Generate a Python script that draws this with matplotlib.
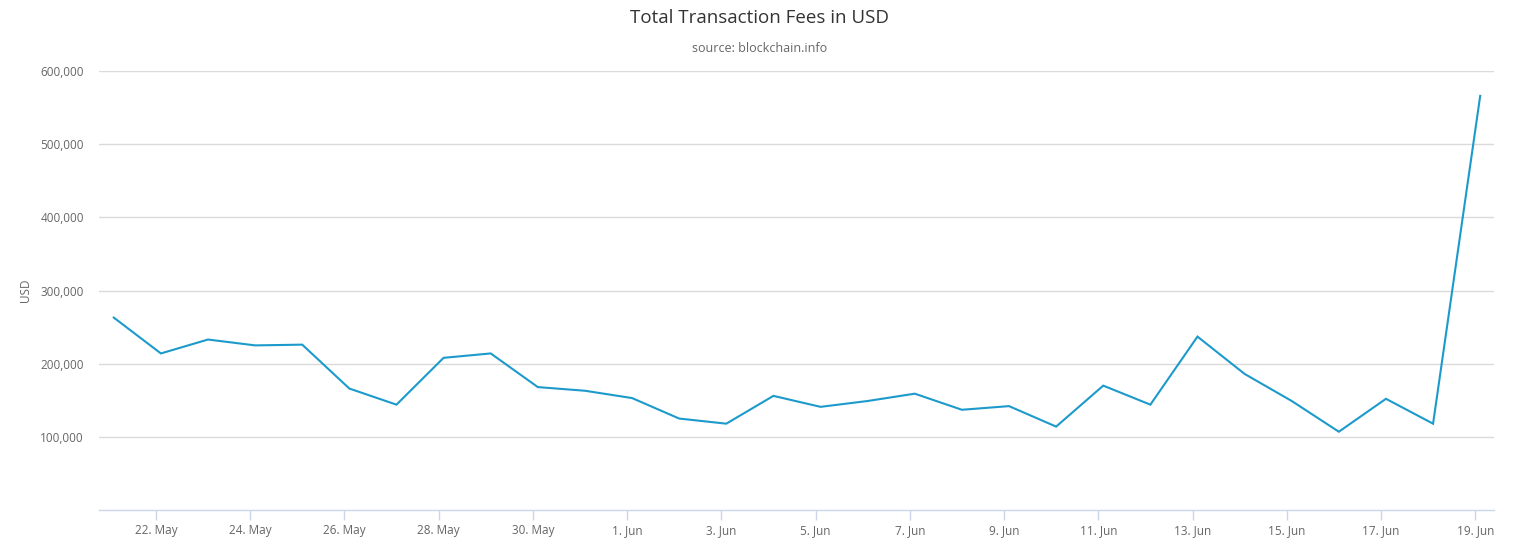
import pandas as pd
import matplotlib
matplotlib.use("Agg")
import matplotlib.pyplot as plt
import matplotlib.ticker as tkr

# DATA

dates = pd.date_range("2017-05-21", "2017-06-19", freq="D")

fees = [263000, 214000, 233000, 225000, 226000, 166000, 144000, 208000,
        214000, 168000, 163000, 153000, 125000, 118000, 156000, 141000,
        149000, 159000, 137000, 142000, 114000, 170000, 144000, 237000,
        186000, 149000, 107000, 152000, 118000, 566000]

tick_dates = pd.date_range("2017-05-22", "2017-06-19", freq="2D")
yticks = [100000, 200000, 300000, 400000, 500000, 600000]

# STYLE

LINE = "#1c9acb"
GRID = "#dadada"
AXIS = "#ccd6eb"
LABEL = "#666666"

plt.rcParams["font.family"] = ["Open Sans", "DejaVu Sans"]

figure = plt.figure(figsize=(15.19, 5.5), dpi=100)
axis = figure.add_axes([0.0652, 0.0727, 0.9183, 0.7982])

# points are stamped slightly after midnight
axis.plot(dates + pd.Timedelta(hours=2.5), fees, color=LINE, linewidth=1.5,
          solid_joinstyle="miter")

axis.set_xlim(pd.Timestamp("2017-05-20 19:00"), pd.Timestamp("2017-06-19 09:30"))
axis.set_ylim(0, 600000)

axis.set_xticks(tick_dates)
axis.set_xticklabels([f"{d.day}. {d:%b}" for d in tick_dates])

axis.set_yticks(yticks)
axis.yaxis.set_major_formatter(tkr.FuncFormatter(lambda v, p: f"{int(v):,}"))

axis.grid(axis="y", color=GRID, linewidth=1)
axis.set_axisbelow(True)

for side in ["top", "right", "left"]:
    axis.spines[side].set_visible(False)
axis.spines["bottom"].set_color(AXIS)
axis.spines["bottom"].set_linewidth(1)

axis.tick_params(axis="x", colors=AXIS, length=7, width=1, labelcolor=LABEL,
                 labelsize=8.5, pad=3)
axis.tick_params(axis="y", length=0, labelcolor=LABEL, labelsize=8.5, pad=11)

axis.set_ylabel("USD", color=LABEL, fontsize=8.5, labelpad=6)

figure.text(0.5, 1 - 18 / 550, "Total Transaction Fees in USD", ha="center",
            va="center", fontsize=13.5, color="#333333")
figure.text(0.5, 1 - 48 / 550, "source: blockchain.info", ha="center",
            va="center", fontsize=9, color=LABEL)

figure.savefig("out.png", dpi=100)
